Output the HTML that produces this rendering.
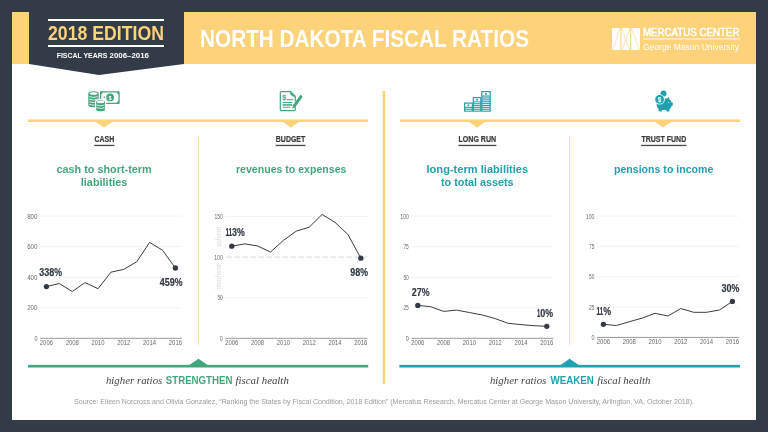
<!DOCTYPE html>
<html><head><meta charset="utf-8"><title>North Dakota Fiscal Ratios</title>
<style>
html,body{margin:0;padding:0;background:#323b46;}
body{width:768px;height:432px;overflow:hidden;}
svg{display:block;font-family:'Liberation Sans', Arial, sans-serif;will-change:transform;}
</style></head><body>
<svg width="768" height="432" viewBox="0 0 768 432">
<rect x="0" y="0" width="768" height="432" fill="#323b46"/>
<rect x="12" y="12" width="744" height="408" fill="#ffffff"/>
<rect x="12" y="12" width="744" height="52" fill="#fcd27a"/>
<polygon points="29,0 184,0 184,64 99,75 29,64" fill="#323b46"/>
<rect x="48" y="19" width="116" height="2" fill="#ffffff"/>
<rect x="48" y="45" width="116" height="2" fill="#ffffff"/>

<text x="48" y="39.8" font-size="19.6" fill="#fcd27a" font-weight="700" textLength="116" lengthAdjust="spacingAndGlyphs">2018 EDITION</text>
<text y="58" font-size="7.3" font-weight="700" fill="#ffffff"><tspan x="56.7" textLength="50.6" lengthAdjust="spacingAndGlyphs">FISCAL YEARS</tspan> <tspan x="109.6" textLength="39.3" lengthAdjust="spacingAndGlyphs">2006–2016</tspan></text>
<text x="200" y="47.2" font-size="23.6" fill="#ffffff" font-weight="700" textLength="329" lengthAdjust="spacingAndGlyphs">NORTH DAKOTA FISCAL RATIOS</text>
<g>
<rect x="612" y="28" width="8.4" height="22" fill="#fff"/>
<rect x="621.4" y="28" width="8.8" height="22" fill="#fff"/>
<rect x="631.2" y="28" width="8.8" height="22" fill="#fff"/>
<path d="M620 28 L613 50 M621.6 28 L630 50 M630 28 L622 50 M631.4 28 L639.6 50" stroke="#fcd27a" stroke-width="0.6" fill="none"/>
</g>
<text x="642.9" y="35.8" font-size="10.4" fill="#ffffff" textLength="96.6" lengthAdjust="spacingAndGlyphs" stroke="#ffffff" stroke-width="0.45">MERCATUS CENTER</text>
<rect x="643" y="38.5" width="97" height="0.9" fill="#ffffff"/>
<text x="643" y="49.6" font-size="8.7" fill="#ffffff" textLength="96" lengthAdjust="spacingAndGlyphs">George Mason University</text>
<rect x="28" y="119.5" width="340" height="2.5" fill="#fcd27a"/>
<rect x="400" y="119.5" width="340" height="2.5" fill="#fcd27a"/>
<rect x="382.7" y="91" width="2.5" height="292.8" fill="#fcd27a"/>
<polygon points="95.5,121.8 112.5,121.8 104,127.6" fill="#fcd27a"/>
<polygon points="282.5,121.8 299.5,121.8 291,127.6" fill="#fcd27a"/>
<polygon points="468.5,121.8 485.5,121.8 477,127.6" fill="#fcd27a"/>
<polygon points="654.5,121.8 671.5,121.8 663,127.6" fill="#fcd27a"/>
<rect x="198.0" y="136" width="1" height="209" fill="#f7e3b6"/>
<rect x="569.0" y="136" width="1" height="209" fill="#f7e3b6"/>
<text x="104.3" y="142.1" font-size="8.3" fill="#3a3a3a" font-weight="700" text-anchor="middle" textLength="19.8" lengthAdjust="spacingAndGlyphs" stroke="#3a3a3a" stroke-width="0.2">CASH</text>
<rect x="94.20" y="144.8" width="20.20" height="1.3" fill="#4a4a4a"/>
<text x="290.55" y="142.1" font-size="8.3" fill="#3a3a3a" font-weight="700" text-anchor="middle" textLength="29.5" lengthAdjust="spacingAndGlyphs" stroke="#3a3a3a" stroke-width="0.2">BUDGET</text>
<rect x="275.60" y="144.8" width="29.90" height="1.3" fill="#4a4a4a"/>
<text x="477.3" y="142.1" font-size="8.3" fill="#3a3a3a" font-weight="700" text-anchor="middle" textLength="37.6" lengthAdjust="spacingAndGlyphs" stroke="#3a3a3a" stroke-width="0.2">LONG RUN</text>
<rect x="458.30" y="144.8" width="38.00" height="1.3" fill="#4a4a4a"/>
<text x="663.8" y="142.1" font-size="8.3" fill="#3a3a3a" font-weight="700" text-anchor="middle" textLength="44.85" lengthAdjust="spacingAndGlyphs" stroke="#3a3a3a" stroke-width="0.2">TRUST FUND</text>
<rect x="641.17" y="144.8" width="45.25" height="1.3" fill="#4a4a4a"/>
<text x="104.05" y="172.6" font-size="11" fill="#42a67c" font-weight="700" text-anchor="middle" textLength="95.3" lengthAdjust="spacingAndGlyphs">cash to short-term</text>
<text x="104.1" y="185.8" font-size="11" fill="#42a67c" font-weight="700" text-anchor="middle" textLength="46.6" lengthAdjust="spacingAndGlyphs">liabilities</text>
<text x="291.2" y="172.7" font-size="11" fill="#42a67c" font-weight="700" text-anchor="middle" textLength="110.4" lengthAdjust="spacingAndGlyphs">revenues to expenses</text>
<text x="477.35" y="172.9" font-size="11" fill="#21a0ad" font-weight="700" text-anchor="middle" textLength="101.7" lengthAdjust="spacingAndGlyphs">long-term liabilities</text>
<text x="477.3" y="185.7" font-size="11" fill="#21a0ad" font-weight="700" text-anchor="middle" textLength="72.6" lengthAdjust="spacingAndGlyphs">to total assets</text>
<text x="663.65" y="172.7" font-size="11" fill="#21a0ad" font-weight="700" text-anchor="middle" textLength="99.3" lengthAdjust="spacingAndGlyphs">pensions to income</text>
<text x="37.4" y="340.90" font-size="7" fill="#6a6a6a" text-anchor="end" textLength="3.0" lengthAdjust="spacingAndGlyphs">0</text>
<rect x="40.0" y="307.25" width="142" height="1" fill="#f3f3f3"/>
<text x="37.4" y="310.35" font-size="7" fill="#6a6a6a" text-anchor="end" textLength="10.2" lengthAdjust="spacingAndGlyphs">200</text>
<rect x="40.0" y="276.70" width="142" height="1" fill="#f3f3f3"/>
<text x="37.4" y="279.80" font-size="7" fill="#6a6a6a" text-anchor="end" textLength="10.2" lengthAdjust="spacingAndGlyphs">400</text>
<rect x="40.0" y="246.15" width="142" height="1" fill="#f3f3f3"/>
<text x="37.4" y="249.25" font-size="7" fill="#6a6a6a" text-anchor="end" textLength="10.2" lengthAdjust="spacingAndGlyphs">600</text>
<rect x="40.0" y="215.60" width="142" height="1" fill="#f3f3f3"/>
<text x="37.4" y="218.70" font-size="7" fill="#6a6a6a" text-anchor="end" textLength="10.2" lengthAdjust="spacingAndGlyphs">800</text>
<rect x="40.0" y="337.8" width="142" height="1" fill="#9a9a9a"/>
<text x="46.40" y="344.90" font-size="7" fill="#6a6a6a" text-anchor="middle" textLength="13.1" lengthAdjust="spacingAndGlyphs">2006</text>
<text x="72.20" y="344.90" font-size="7" fill="#6a6a6a" text-anchor="middle" textLength="13.1" lengthAdjust="spacingAndGlyphs">2008</text>
<text x="98.00" y="344.90" font-size="7" fill="#6a6a6a" text-anchor="middle" textLength="13.1" lengthAdjust="spacingAndGlyphs">2010</text>
<text x="123.80" y="344.90" font-size="7" fill="#6a6a6a" text-anchor="middle" textLength="13.1" lengthAdjust="spacingAndGlyphs">2012</text>
<text x="149.60" y="344.90" font-size="7" fill="#6a6a6a" text-anchor="middle" textLength="13.1" lengthAdjust="spacingAndGlyphs">2014</text>
<text x="175.40" y="344.90" font-size="7" fill="#6a6a6a" text-anchor="middle" textLength="13.1" lengthAdjust="spacingAndGlyphs">2016</text>
<path d="M46.40 286.60 L59.30 283.50 L72.20 291.50 L85.10 282.60 L98.00 288.70 L110.90 272.20 L123.80 269.30 L136.70 261.80 L149.60 242.40 L162.50 250.20 L175.40 268.00" fill="none" stroke="#383d45" stroke-width="1.0" stroke-linejoin="round"/>
<circle cx="46.40" cy="286.60" r="2.65" fill="#343a44"/>
<circle cx="175.40" cy="268.00" r="2.65" fill="#343a44"/>
<text x="222.8" y="340.90" font-size="7" fill="#6a6a6a" text-anchor="end" textLength="3.0" lengthAdjust="spacingAndGlyphs">0</text>
<rect x="225.4" y="297.20" width="142" height="1" fill="#f3f3f3"/>
<text x="222.8" y="300.30" font-size="7" fill="#6a6a6a" text-anchor="end" textLength="5.4" lengthAdjust="spacingAndGlyphs">50</text>
<line x1="226.4" y1="257.10" x2="367.4" y2="257.10" stroke="#e0e0e0" stroke-width="1.2" stroke-dasharray="5.5 2.5"/>
<text x="222.8" y="259.70" font-size="7" fill="#6a6a6a" text-anchor="end" textLength="8.6" lengthAdjust="spacingAndGlyphs">100</text>
<rect x="225.4" y="216.00" width="142" height="1" fill="#f3f3f3"/>
<text x="222.8" y="219.10" font-size="7" fill="#6a6a6a" text-anchor="end" textLength="8.2" lengthAdjust="spacingAndGlyphs">150</text>
<rect x="225.4" y="337.8" width="142" height="1" fill="#9a9a9a"/>
<text x="231.80" y="344.90" font-size="7" fill="#6a6a6a" text-anchor="middle" textLength="13.1" lengthAdjust="spacingAndGlyphs">2006</text>
<text x="257.60" y="344.90" font-size="7" fill="#6a6a6a" text-anchor="middle" textLength="13.1" lengthAdjust="spacingAndGlyphs">2008</text>
<text x="283.40" y="344.90" font-size="7" fill="#6a6a6a" text-anchor="middle" textLength="13.1" lengthAdjust="spacingAndGlyphs">2010</text>
<text x="309.20" y="344.90" font-size="7" fill="#6a6a6a" text-anchor="middle" textLength="13.1" lengthAdjust="spacingAndGlyphs">2012</text>
<text x="335.00" y="344.90" font-size="7" fill="#6a6a6a" text-anchor="middle" textLength="13.1" lengthAdjust="spacingAndGlyphs">2014</text>
<text x="360.80" y="344.90" font-size="7" fill="#6a6a6a" text-anchor="middle" textLength="13.1" lengthAdjust="spacingAndGlyphs">2016</text>
<path d="M231.80 246.20 L244.70 243.90 L257.60 246.00 L270.50 252.00 L283.40 240.40 L296.30 231.10 L309.20 227.20 L322.10 214.40 L335.00 222.40 L347.90 234.40 L360.80 258.20" fill="none" stroke="#383d45" stroke-width="1.0" stroke-linejoin="round"/>
<circle cx="231.80" cy="246.20" r="2.65" fill="#343a44"/>
<circle cx="360.80" cy="258.20" r="2.65" fill="#343a44"/>
<text x="408.79999999999995" y="340.90" font-size="7" fill="#6a6a6a" text-anchor="end" textLength="3.0" lengthAdjust="spacingAndGlyphs">0</text>
<rect x="411.4" y="307.25" width="142" height="1" fill="#f3f3f3"/>
<text x="408.79999999999995" y="310.35" font-size="7" fill="#6a6a6a" text-anchor="end" textLength="5.4" lengthAdjust="spacingAndGlyphs">25</text>
<rect x="411.4" y="276.70" width="142" height="1" fill="#f3f3f3"/>
<text x="408.79999999999995" y="279.80" font-size="7" fill="#6a6a6a" text-anchor="end" textLength="5.4" lengthAdjust="spacingAndGlyphs">50</text>
<rect x="411.4" y="246.15" width="142" height="1" fill="#f3f3f3"/>
<text x="408.79999999999995" y="249.25" font-size="7" fill="#6a6a6a" text-anchor="end" textLength="5.4" lengthAdjust="spacingAndGlyphs">75</text>
<rect x="411.4" y="215.60" width="142" height="1" fill="#f3f3f3"/>
<text x="408.79999999999995" y="218.70" font-size="7" fill="#6a6a6a" text-anchor="end" textLength="8.6" lengthAdjust="spacingAndGlyphs">100</text>
<rect x="411.4" y="337.8" width="142" height="1" fill="#9a9a9a"/>
<text x="417.80" y="344.90" font-size="7" fill="#6a6a6a" text-anchor="middle" textLength="13.1" lengthAdjust="spacingAndGlyphs">2006</text>
<text x="443.60" y="344.90" font-size="7" fill="#6a6a6a" text-anchor="middle" textLength="13.1" lengthAdjust="spacingAndGlyphs">2008</text>
<text x="469.40" y="344.90" font-size="7" fill="#6a6a6a" text-anchor="middle" textLength="13.1" lengthAdjust="spacingAndGlyphs">2010</text>
<text x="495.20" y="344.90" font-size="7" fill="#6a6a6a" text-anchor="middle" textLength="13.1" lengthAdjust="spacingAndGlyphs">2012</text>
<text x="521.00" y="344.90" font-size="7" fill="#6a6a6a" text-anchor="middle" textLength="13.1" lengthAdjust="spacingAndGlyphs">2014</text>
<text x="546.80" y="344.90" font-size="7" fill="#6a6a6a" text-anchor="middle" textLength="13.1" lengthAdjust="spacingAndGlyphs">2016</text>
<path d="M417.80 305.40 L430.70 306.70 L443.60 311.40 L456.50 310.10 L469.40 312.50 L482.30 315.00 L495.20 318.60 L508.10 323.30 L521.00 324.60 L533.90 325.70 L546.80 326.30" fill="none" stroke="#383d45" stroke-width="1.0" stroke-linejoin="round"/>
<circle cx="417.80" cy="305.40" r="2.65" fill="#343a44"/>
<circle cx="546.80" cy="326.30" r="2.65" fill="#343a44"/>
<text x="594.4" y="340.00" font-size="7" fill="#6a6a6a" text-anchor="end" textLength="3.0" lengthAdjust="spacingAndGlyphs">0</text>
<rect x="597.0" y="306.57" width="142" height="1" fill="#f3f3f3"/>
<text x="594.4" y="309.68" font-size="7" fill="#6a6a6a" text-anchor="end" textLength="5.4" lengthAdjust="spacingAndGlyphs">25</text>
<rect x="597.0" y="276.25" width="142" height="1" fill="#f3f3f3"/>
<text x="594.4" y="279.35" font-size="7" fill="#6a6a6a" text-anchor="end" textLength="5.4" lengthAdjust="spacingAndGlyphs">50</text>
<rect x="597.0" y="245.92" width="142" height="1" fill="#f3f3f3"/>
<text x="594.4" y="249.02" font-size="7" fill="#6a6a6a" text-anchor="end" textLength="5.4" lengthAdjust="spacingAndGlyphs">75</text>
<rect x="597.0" y="215.60" width="142" height="1" fill="#f3f3f3"/>
<text x="594.4" y="218.70" font-size="7" fill="#6a6a6a" text-anchor="end" textLength="8.6" lengthAdjust="spacingAndGlyphs">100</text>
<rect x="597.0" y="336.9" width="142" height="1" fill="#9a9a9a"/>
<text x="603.40" y="344.00" font-size="7" fill="#6a6a6a" text-anchor="middle" textLength="13.1" lengthAdjust="spacingAndGlyphs">2006</text>
<text x="629.20" y="344.00" font-size="7" fill="#6a6a6a" text-anchor="middle" textLength="13.1" lengthAdjust="spacingAndGlyphs">2008</text>
<text x="655.00" y="344.00" font-size="7" fill="#6a6a6a" text-anchor="middle" textLength="13.1" lengthAdjust="spacingAndGlyphs">2010</text>
<text x="680.80" y="344.00" font-size="7" fill="#6a6a6a" text-anchor="middle" textLength="13.1" lengthAdjust="spacingAndGlyphs">2012</text>
<text x="706.60" y="344.00" font-size="7" fill="#6a6a6a" text-anchor="middle" textLength="13.1" lengthAdjust="spacingAndGlyphs">2014</text>
<text x="732.40" y="344.00" font-size="7" fill="#6a6a6a" text-anchor="middle" textLength="13.1" lengthAdjust="spacingAndGlyphs">2016</text>
<path d="M603.40 324.30 L616.30 325.50 L629.20 321.80 L642.10 318.10 L655.00 313.30 L667.90 316.00 L680.80 308.50 L693.70 312.30 L706.60 312.30 L719.50 310.00 L732.40 301.40" fill="none" stroke="#383d45" stroke-width="1.0" stroke-linejoin="round"/>
<circle cx="603.40" cy="324.30" r="2.65" fill="#343a44"/>
<circle cx="732.40" cy="301.40" r="2.65" fill="#343a44"/>
<text x="39.25" y="276.2" font-size="10.2" font-weight="700" fill="#343a44" stroke="#343a44" stroke-width="0.2"><tspan textLength="5.0" lengthAdjust="spacingAndGlyphs">3</tspan><tspan textLength="5.0" lengthAdjust="spacingAndGlyphs">3</tspan><tspan textLength="5.0" lengthAdjust="spacingAndGlyphs">8</tspan><tspan textLength="7.8" lengthAdjust="spacingAndGlyphs">%</tspan></text>
<text x="159.65" y="285.8" font-size="10.2" font-weight="700" fill="#343a44" stroke="#343a44" stroke-width="0.2"><tspan textLength="5.0" lengthAdjust="spacingAndGlyphs">4</tspan><tspan textLength="5.0" lengthAdjust="spacingAndGlyphs">5</tspan><tspan textLength="5.0" lengthAdjust="spacingAndGlyphs">9</tspan><tspan textLength="7.8" lengthAdjust="spacingAndGlyphs">%</tspan></text>
<text x="225.45" y="235.5" font-size="10.2" font-weight="700" fill="#343a44" stroke="#343a44" stroke-width="0.2"><tspan textLength="3.3" lengthAdjust="spacingAndGlyphs">1</tspan><tspan textLength="3.3" lengthAdjust="spacingAndGlyphs">1</tspan><tspan textLength="5.0" lengthAdjust="spacingAndGlyphs">3</tspan><tspan textLength="7.8" lengthAdjust="spacingAndGlyphs">%</tspan></text>
<text x="350.25" y="276.3" font-size="10.2" font-weight="700" fill="#343a44" stroke="#343a44" stroke-width="0.2"><tspan textLength="5.0" lengthAdjust="spacingAndGlyphs">9</tspan><tspan textLength="5.0" lengthAdjust="spacingAndGlyphs">8</tspan><tspan textLength="7.8" lengthAdjust="spacingAndGlyphs">%</tspan></text>
<text x="411.65" y="295.8" font-size="10.2" font-weight="700" fill="#343a44" stroke="#343a44" stroke-width="0.2"><tspan textLength="5.0" lengthAdjust="spacingAndGlyphs">2</tspan><tspan textLength="5.0" lengthAdjust="spacingAndGlyphs">7</tspan><tspan textLength="7.8" lengthAdjust="spacingAndGlyphs">%</tspan></text>
<text x="537.05" y="317.0" font-size="10.2" font-weight="700" fill="#343a44" stroke="#343a44" stroke-width="0.2"><tspan textLength="3.3" lengthAdjust="spacingAndGlyphs">1</tspan><tspan textLength="5.0" lengthAdjust="spacingAndGlyphs">0</tspan><tspan textLength="7.8" lengthAdjust="spacingAndGlyphs">%</tspan></text>
<text x="596.55" y="314.8" font-size="10.2" font-weight="700" fill="#343a44" stroke="#343a44" stroke-width="0.2"><tspan textLength="3.3" lengthAdjust="spacingAndGlyphs">1</tspan><tspan textLength="3.3" lengthAdjust="spacingAndGlyphs">1</tspan><tspan textLength="7.8" lengthAdjust="spacingAndGlyphs">%</tspan></text>
<text x="721.55" y="292.2" font-size="10.2" font-weight="700" fill="#343a44" stroke="#343a44" stroke-width="0.2"><tspan textLength="5.0" lengthAdjust="spacingAndGlyphs">3</tspan><tspan textLength="5.0" lengthAdjust="spacingAndGlyphs">0</tspan><tspan textLength="7.8" lengthAdjust="spacingAndGlyphs">%</tspan></text>
<text transform="translate(221.2 247) rotate(-90)" font-size="7.2" fill="#d8d8d8" font-family="'Liberation Serif', 'Times New Roman', serif" font-style="italic" textLength="20.3" lengthAdjust="spacingAndGlyphs">solvent</text>
<text transform="translate(221.2 289.6) rotate(-90)" font-size="7.2" fill="#d8d8d8" font-family="'Liberation Serif', 'Times New Roman', serif" font-style="italic" textLength="25.6" lengthAdjust="spacingAndGlyphs">insolvent</text>
<rect x="28" y="364.9" width="340.2" height="2.6" fill="#42a67c"/>
<polygon points="189,365.2 208,365.2 198.5,358.8" fill="#42a67c"/>
<rect x="399.4" y="364.9" width="340.6" height="2.6" fill="#21a0ad"/>
<polygon points="560.2,365.2 579,365.2 569.6,358.8" fill="#21a0ad"/>
<text y="383.6" font-size="11" font-family="'Liberation Serif', 'Times New Roman', serif" font-style="italic" fill="#444444"><tspan x="105.9" textLength="56.4" lengthAdjust="spacingAndGlyphs">higher ratios</tspan> <tspan x="165.8" font-family="'Liberation Sans', Arial, sans-serif" font-style="normal" font-weight="700" fill="#42a67c" font-size="10.4" textLength="66.6" lengthAdjust="spacingAndGlyphs">STRENGTHEN</tspan> <tspan x="235.6" textLength="53.2" lengthAdjust="spacingAndGlyphs">fiscal health</tspan></text>
<text y="383.6" font-size="11" font-family="'Liberation Serif', 'Times New Roman', serif" font-style="italic" fill="#444444"><tspan x="489.9" textLength="56.4" lengthAdjust="spacingAndGlyphs">higher ratios</tspan> <tspan x="550.6" font-family="'Liberation Sans', Arial, sans-serif" font-style="normal" font-weight="700" fill="#21a0ad" font-size="10.4" textLength="43.3" lengthAdjust="spacingAndGlyphs">WEAKEN</tspan> <tspan x="597.2" textLength="53.2" lengthAdjust="spacingAndGlyphs">fiscal health</tspan></text>
<text x="384" y="404.1" font-size="7" fill="#9a9a9a" text-anchor="middle" textLength="620" lengthAdjust="spacingAndGlyphs">Source: Eileen Norcross and Olivia Gonzalez, “Ranking the States by Fiscal Condition, 2018 Edition” (Mercatus Research, Mercatus Center at George Mason University, Arlington, VA, October 2018).</text>
<g id="icon-cash" fill="#42a67c">
  <!-- back coin stack -->
  <path d="M88.3 93.4 A5.2 2.2 0 0 1 98.7 93.4 L98.7 105.1 A5.2 2.2 0 0 1 88.3 105.1 Z"/>
  <ellipse cx="93.5" cy="93.5" rx="4.0" ry="1.25" fill="#fff"/>
  <g stroke="#fff" stroke-width="0.8" fill="none">
    <path d="M89.2 96.6 Q93.5 98.3 97.8 96.6"/>
    <path d="M89.2 99.2 Q93.5 100.9 97.8 99.2"/>
    <path d="M89.2 101.8 Q93.5 103.5 97.8 101.8"/>
    <path d="M89.2 104.4 Q93.5 106.1 97.8 104.4"/>
  </g>
  <!-- bill -->
  <rect x="100" y="91.3" width="19.7" height="12.7" rx="0.8"/>
  <path d="M102.6 92.6 L117.1 92.6 Q117.1 94.2 118.4 94.2 L118.4 101.1 Q117.1 101.1 117.1 102.7 L102.6 102.7 Q102.6 101.1 101.3 101.1 L101.3 94.2 Q102.6 94.2 102.6 92.6 Z" fill="#fff"/>
  <circle cx="110.1" cy="97.4" r="3.9"/>
  <circle cx="104.2" cy="97.4" r="0.8"/>
  <text x="110.1" y="99.5" font-size="5.6" font-weight="700" fill="#fff" text-anchor="middle">$</text>
  <!-- front coin stack -->
  <path d="M95.6 101.9 A5.0 2.2 0 0 1 105.6 101.9 L105.6 109.7 A5.0 2.2 0 0 1 95.6 109.7 Z" stroke="#fff" stroke-width="1.2"/>
  <ellipse cx="100.6" cy="102.0" rx="3.8" ry="1.2" fill="#fff"/>
  <g stroke="#fff" stroke-width="0.8" fill="none">
    <path d="M96.5 105.0 Q100.6 106.7 104.7 105.0"/>
    <path d="M96.5 107.6 Q100.6 109.3 104.7 107.6"/>
  </g>
</g>
<g id="icon-budget">
  <path d="M281.4 91.6 L290.6 91.6 L295.3 96.3 L295.3 109.6 Q295.3 110.7 294.2 110.7 L281.4 110.7 Q280.3 110.7 280.3 109.6 L280.3 92.7 Q280.3 91.6 281.4 91.6 Z" fill="#fff" stroke="#42a67c" stroke-width="1.2"/>
  <path d="M290.3 92.2 Q290.5 96.0 295.0 96.4 Z" fill="#42a67c" stroke="#42a67c" stroke-width="0.8"/>
  <text x="284.3" y="99.8" font-size="7.4" font-weight="700" fill="#42a67c" text-anchor="middle">$</text>
  <rect x="287" y="99.2" width="6.3" height="1" fill="#42a67c"/>
  <rect x="282.5" y="102" width="10" height="0.9" fill="#42a67c"/>
  <rect x="282.5" y="104.2" width="9.5" height="1.5" fill="#42a67c"/>
  <rect x="282.5" y="106.8" width="8" height="0.9" fill="#42a67c"/>
  <path d="M292.4 108.7 L292.82 105.58 L299.71 95.77 A1.45 1.45 0 0 1 302.09 97.43 L295.2 107.24 Z" fill="#42a67c" stroke="#fff" stroke-width="0.7" paint-order="stroke"/>
</g>
<g id="icon-longrun" fill="#21a0ad">
  <rect x="464" y="102.5" width="8.9" height="9.2"/>
  <rect x="472.7" y="97" width="8.7" height="14.7"/>
  <rect x="481.2" y="91" width="9.6" height="20.7"/>
  <g fill="#fff">
    <rect x="465.2" y="103.7" width="6.5" height="3.1"/>
    <rect x="473.9" y="98.2" width="6.3" height="3.2"/>
    <rect x="482.4" y="92.2" width="7.2" height="3.3"/>
    <rect x="465.2" y="107.9" width="6.5" height="0.8"/>
    <rect x="465.2" y="109.8" width="6.5" height="0.8"/>
    <rect x="473.9" y="102.4" width="6.3" height="0.8"/>
    <rect x="473.9" y="104.3" width="6.3" height="0.8"/>
    <rect x="473.9" y="106.1" width="6.3" height="0.8"/>
    <rect x="473.9" y="107.9" width="6.3" height="0.8"/>
    <rect x="473.9" y="109.8" width="6.3" height="0.8"/>
    <rect x="482.4" y="96.6" width="7.2" height="0.8"/>
    <rect x="482.4" y="98.5" width="7.2" height="0.8"/>
    <rect x="482.4" y="100.4" width="7.2" height="0.8"/>
    <rect x="482.4" y="102.3" width="7.2" height="0.8"/>
    <rect x="482.4" y="104.2" width="7.2" height="0.8"/>
    <rect x="482.4" y="106.1" width="7.2" height="0.8"/>
    <rect x="482.4" y="107.9" width="7.2" height="0.8"/>
    <rect x="482.4" y="109.8" width="7.2" height="0.8"/>
  </g>
  <circle cx="468.4" cy="105.2" r="1.0"/>
  <circle cx="477.0" cy="99.8" r="1.0"/>
  <circle cx="486.0" cy="93.9" r="1.0"/>
</g>
<g id="icon-piggy" fill="#21a0ad">
  <circle cx="663.5" cy="93.6" r="3.0"/>
  <!-- pig body -->
  <path d="M656.6 104.8 Q656.6 98.8 663.8 98.5 L667.4 98.5 L668.6 96.5 L669.4 99.3 Q671.2 100.6 671.6 102.4 L672.8 102.6 L672.8 105.6 L671.6 105.9 Q670.9 108.2 669.6 108.9 L669.4 111.4 L666.6 111.4 L666.3 109.9 L661.9 109.9 L661.6 111.4 L658.8 111.4 L658.6 108.9 Q656.6 107.4 656.6 104.8 Z"/>
  <circle cx="668.3" cy="102.2" r="0.55" fill="#fff"/>
  <circle cx="659.6" cy="99.4" r="5.2" fill="#fff"/>
  <circle cx="659.6" cy="99.4" r="4.4"/>
  <text x="659.6" y="101.9" font-size="6.6" font-weight="700" fill="#fff" text-anchor="middle">$</text>
</g>

</svg>
</body></html>
